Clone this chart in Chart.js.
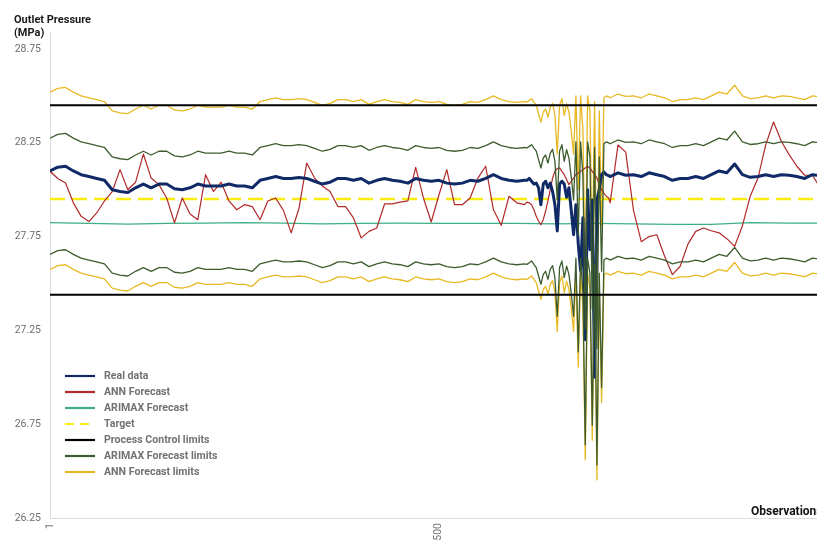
<!DOCTYPE html>
<html>
<head>
<meta charset="utf-8">
<title>Outlet Pressure</title>
<script src="https://cdn.jsdelivr.net/npm/chart.js@4.4.0/dist/chart.umd.min.js"></script>
<style>
  html, body { margin: 0; padding: 0; background: #fff; overflow: hidden; }
  #wrap { width: 850px; height: 542px; }
</style>
</head>
<body>
<div id="wrap"><canvas id="chart" width="850" height="542"></canvas></div>
<script>
// observation numbers (denser sampling around the disturbance near obs 620-720)
const obs = [
  1, 11, 21, 31, 41, 51, 61, 71, 81, 91,
  101, 111, 121, 131, 141, 151, 161, 171, 181, 191,
  201, 211, 221, 231, 241, 251, 261, 271, 281, 291,
  301, 311, 321, 331, 341, 351, 361, 371, 381, 391,
  401, 411, 421, 431, 441, 451, 461, 471, 481, 491,
  501, 511, 521, 531, 541, 551, 561, 571, 581, 591,
  601, 611,
  614, 617, 620, 623, 626, 629, 632, 635, 638, 641,
  644, 647, 650, 653, 656, 659, 662, 665, 668, 671,
  674, 677, 680, 683, 686, 689, 692, 695, 698, 701,
  704, 707, 710, 713, 716, 719,
  721, 731, 741, 751, 761, 771, 781, 791, 801, 811,
  821, 831, 841, 851, 861, 871, 881, 891, 901, 911,
  921, 931, 941, 951, 961, 971, 981, 991, 1001
]

const realData = [
  28.10, 28.12, 28.125, 28.10, 28.08, 28.07, 28.06, 28.05, 28.00, 27.99,
  27.985, 28.01, 28.03, 28.01, 28.03, 28.03, 28.005, 28.00, 28.01, 28.03,
  28.02, 28.02, 28.02, 28.03, 28.02, 28.02, 28.01, 28.05, 28.06, 28.07,
  28.06, 28.06, 28.065, 28.06, 28.045, 28.03, 28.04, 28.06, 28.06, 28.05,
  28.06, 28.035, 28.05, 28.06, 28.05, 28.045, 28.035, 28.06, 28.05, 28.045,
  28.05, 28.035, 28.03, 28.035, 28.05, 28.045, 28.06, 28.08, 28.06, 28.05,
  28.045, 28.05,
  28.05, 28.06, 28.045, 28.03, 28.035, 28.01, 27.92, 28.03, 28.045, 28.01,
  28.035, 27.99, 27.92, 27.78, 28.03, 28.045, 28.03, 27.96, 28.01, 27.89,
  27.76, 27.92, 27.71, 27.57, 27.85, 27.20, 28.00, 27.68, 27.945, 27.00,
  27.945, 28.00, 28.08, 28.095, 28.08, 28.075,
  28.07, 28.09, 28.077, 28.08, 28.07, 28.09, 28.08, 28.07, 28.05, 28.06,
  28.06, 28.07, 28.06, 28.08, 28.10, 28.09, 28.137, 28.08, 28.066, 28.07,
  28.08, 28.07, 28.08, 28.077, 28.07, 28.06, 28.08, 28.075, 28.07
]

const annForecast = [
  28.098, 28.06, 28.036, 27.93, 27.858, 27.83, 27.876, 27.94, 27.99, 28.107,
  28.00, 28.04, 28.19, 28.062, 28.027, 27.956, 27.823, 27.956, 27.87, 27.84,
  28.08, 27.99, 28.04, 27.94, 27.893, 27.92, 27.91, 27.84, 27.94, 27.956,
  27.89, 27.77, 27.90, 28.142, 28.062, 28.02, 27.99, 27.91, 27.91, 27.85,
  27.743, 27.778, 27.796, 27.924, 27.924, 27.934, 27.94, 28.119, 27.956, 27.828,
  27.973, 28.107, 27.92, 27.92, 27.956, 28.062, 28.125, 27.893, 27.81, 27.965,
  27.93, 27.92,
  27.934, 27.93, 27.92, 27.893, 27.858, 27.832, 27.813, 27.84, 27.885, 27.94,
  28.00, 28.062, 28.098, 28.112, 28.116, 28.098, 28.08, 28.053, 28.027, 28.045,
  28.062, 28.08, 28.089, 28.098, 28.107, 28.116, 28.125, 28.116, 28.098, 28.08,
  28.062, 28.027, 28.00, 27.982, 27.965, 27.956,
  27.93, 28.238, 28.20, 27.89, 27.723, 27.75, 27.76, 27.645, 27.547, 27.592,
  27.71, 27.778, 27.796, 27.781, 27.77, 27.739, 27.698, 27.808, 27.965, 28.062,
  28.24, 28.361, 28.258, 28.187, 28.125, 28.077, 28.077, 28.01, 28.00
]

const arimaxObs = [1, 51, 101, 151, 201, 251, 301, 351, 401, 451, 501, 551, 601, 651, 701, 751, 801, 851, 901, 951, 1001]
const arimaxForecast = [
  27.825, 27.82, 27.817, 27.82, 27.822, 27.825, 27.822, 27.818, 27.82, 27.822,
  27.82, 27.82, 27.82, 27.818, 27.82, 27.818, 27.815, 27.815, 27.825, 27.822, 27.822
]

const arimaxUpper = [
  28.275, 28.295, 28.30, 28.275, 28.255, 28.245, 28.235, 28.225, 28.175, 28.165,
  28.16, 28.185, 28.205, 28.185, 28.205, 28.205, 28.18, 28.175, 28.185, 28.205,
  28.195, 28.195, 28.195, 28.205, 28.195, 28.195, 28.185, 28.225, 28.235, 28.245,
  28.235, 28.235, 28.24, 28.235, 28.22, 28.205, 28.215, 28.235, 28.235, 28.225,
  28.235, 28.21, 28.225, 28.235, 28.225, 28.22, 28.21, 28.235, 28.225, 28.22,
  28.225, 28.21, 28.205, 28.21, 28.225, 28.22, 28.235, 28.255, 28.235, 28.225,
  28.22, 28.225,
  28.222, 28.231, 28.24, 28.222, 28.205, 28.16, 28.115, 28.169, 28.185, 28.142,
  28.195, 28.215, 28.151, 27.945, 28.205, 28.24, 28.151, 28.213, 28.169, 28.068,
  27.945, 28.255, 27.755, 28.255, 28.075, 27.26, 28.255, 28.175, 27.365, 28.225,
  27.153, 28.175, 27.565, 28.245, 28.255, 28.25,
  28.245, 28.265, 28.252, 28.255, 28.245, 28.265, 28.255, 28.245, 28.225, 28.235,
  28.235, 28.245, 28.235, 28.255, 28.275, 28.265, 28.312, 28.255, 28.241, 28.245,
  28.255, 28.245, 28.255, 28.252, 28.245, 28.235, 28.255, 28.25, 28.245
]

const arimaxLower = [
  27.655, 27.675, 27.68, 27.655, 27.635, 27.625, 27.615, 27.605, 27.555, 27.545,
  27.54, 27.565, 27.585, 27.565, 27.585, 27.585, 27.56, 27.555, 27.565, 27.585,
  27.575, 27.575, 27.575, 27.585, 27.575, 27.575, 27.565, 27.605, 27.615, 27.625,
  27.615, 27.615, 27.62, 27.615, 27.60, 27.585, 27.595, 27.615, 27.615, 27.605,
  27.615, 27.59, 27.605, 27.615, 27.605, 27.60, 27.59, 27.615, 27.605, 27.60,
  27.605, 27.59, 27.585, 27.59, 27.605, 27.60, 27.615, 27.635, 27.615, 27.605,
  27.60, 27.605,
  27.602, 27.611, 27.62, 27.602, 27.585, 27.54, 27.495, 27.549, 27.565, 27.522,
  27.575, 27.595, 27.531, 27.325, 27.585, 27.62, 27.531, 27.593, 27.549, 27.448,
  27.325, 27.635, 27.135, 27.635, 27.455, 26.64, 27.635, 27.555, 26.745, 27.605,
  26.533, 27.555, 26.945, 27.625, 27.635, 27.63,
  27.625, 27.645, 27.632, 27.635, 27.625, 27.645, 27.635, 27.625, 27.605, 27.615,
  27.615, 27.625, 27.615, 27.635, 27.655, 27.645, 27.692, 27.635, 27.621, 27.625,
  27.635, 27.625, 27.635, 27.632, 27.625, 27.615, 27.635, 27.63, 27.625
]

const annUpper = [
  28.52, 28.54, 28.545, 28.52, 28.50, 28.49, 28.48, 28.47, 28.42, 28.41,
  28.405, 28.43, 28.45, 28.43, 28.45, 28.45, 28.425, 28.42, 28.43, 28.45,
  28.44, 28.44, 28.44, 28.45, 28.44, 28.44, 28.43, 28.47, 28.48, 28.49,
  28.48, 28.48, 28.485, 28.48, 28.465, 28.45, 28.46, 28.48, 28.48, 28.47,
  28.48, 28.455, 28.47, 28.48, 28.47, 28.465, 28.455, 28.48, 28.47, 28.465,
  28.47, 28.455, 28.45, 28.455, 28.47, 28.465, 28.48, 28.50, 28.48, 28.47,
  28.465, 28.47,
  28.467, 28.476, 28.485, 28.467, 28.45, 28.405, 28.36, 28.414, 28.43, 28.387,
  28.44, 28.46, 28.396, 28.19, 28.45, 28.485, 28.396, 28.458, 28.414, 28.313,
  28.19, 28.50, 28.00, 28.50, 28.32, 27.505, 28.50, 28.42, 27.61, 28.47,
  27.398, 28.42, 27.81, 28.49, 28.50, 28.495,
  28.49, 28.51, 28.497, 28.50, 28.49, 28.51, 28.50, 28.49, 28.47, 28.48,
  28.48, 28.49, 28.48, 28.50, 28.52, 28.51, 28.557, 28.50, 28.486, 28.49,
  28.50, 28.49, 28.50, 28.497, 28.49, 28.48, 28.50, 28.495, 28.49
]

const annLower = [
  27.575, 27.595, 27.60, 27.575, 27.555, 27.545, 27.535, 27.525, 27.475, 27.465,
  27.46, 27.485, 27.505, 27.485, 27.505, 27.505, 27.48, 27.475, 27.485, 27.505,
  27.495, 27.495, 27.495, 27.505, 27.495, 27.495, 27.485, 27.525, 27.535, 27.545,
  27.535, 27.535, 27.54, 27.535, 27.52, 27.505, 27.515, 27.535, 27.535, 27.525,
  27.535, 27.51, 27.525, 27.535, 27.525, 27.52, 27.51, 27.535, 27.525, 27.52,
  27.525, 27.51, 27.505, 27.51, 27.525, 27.52, 27.535, 27.555, 27.535, 27.525,
  27.52, 27.525,
  27.522, 27.531, 27.54, 27.522, 27.505, 27.46, 27.415, 27.469, 27.485, 27.442,
  27.495, 27.515, 27.451, 27.245, 27.505, 27.54, 27.451, 27.513, 27.469, 27.368,
  27.245, 27.555, 27.055, 27.555, 27.375, 26.56, 27.555, 27.475, 26.665, 27.525,
  26.453, 27.475, 26.865, 27.545, 27.555, 27.55,
  27.545, 27.565, 27.552, 27.555, 27.545, 27.565, 27.555, 27.545, 27.525, 27.535,
  27.535, 27.545, 27.535, 27.555, 27.575, 27.565, 27.612, 27.555, 27.541, 27.545,
  27.555, 27.545, 27.555, 27.552, 27.545, 27.535, 27.555, 27.55, 27.545
]

const controlLimits = [28.45, 27.44]
const target = 27.95
const yTicks = [26.25, 26.75, 27.25, 27.75, 28.25, 28.75]
const xTicks = [1, 500, 1000]
const xRange = [1, 1010]

const colors = {
    real: '#0f2a66',
    ann: '#b02a2a',
    arimax: '#3caf86',
    target: '#f8ec10',
    control: '#000000',
    arimaxLim: '#3d5c2e',
    annLim: '#e8b923'
}

for (const [name, arr] of Object.entries({ realData, annForecast, arimaxUpper, arimaxLower, annUpper, annLower })) {
    if (arr.length !== obs.length) throw new Error(name + ' has ' + arr.length + ' values, expected ' + obs.length)
}

const pts = (xs, ys) => xs.map((x, i) => ({ x: x, y: ys[i] }))
const flat = v => [{ x: xRange[0], y: v }, { x: xRange[1], y: v }]

function line(label, data, color, width, extra) {
    return Object.assign({
        label: label,
        data: data,
        borderColor: color,
        backgroundColor: color,
        borderWidth: width,
        pointRadius: 0,
        tension: 0,
        fill: false,
        borderJoinStyle: 'round'
    }, extra || {})
}

// first dataset is drawn on top
const datasets = [
    line('Process Control limits', flat(controlLimits[0]), colors.control, 2),
    line('Process Control limits', flat(controlLimits[1]), colors.control, 2),
    line('ARIMAX Forecast limits', pts(obs, arimaxUpper), colors.arimaxLim, 1.3),
    line('ARIMAX Forecast limits', pts(obs, arimaxLower), colors.arimaxLim, 1.3),
    line('Real data', pts(obs, realData), colors.real, 3),
    line('ANN Forecast', pts(obs, annForecast), colors.ann, 1.2),
    line('Target', flat(target), colors.target, 2.5, { borderDash: [15, 7] }),
    line('ANN Forecast limits', pts(obs, annUpper), colors.annLim, 1.3),
    line('ANN Forecast limits', pts(obs, annLower), colors.annLim, 1.3),
    line('ARIMAX Forecast', pts(arimaxObs, arimaxForecast), colors.arimax, 1.3)
]

const legendItems = [
    { label: 'Real data', color: colors.real },
    { label: 'ANN Forecast', color: colors.ann },
    { label: 'ARIMAX Forecast', color: colors.arimax },
    { label: 'Target', color: colors.target, dash: [9, 6] },
    { label: 'Process Control limits', color: colors.control },
    { label: 'ARIMAX Forecast limits', color: colors.arimaxLim },
    { label: 'ANN Forecast limits', color: colors.annLim }
]

const textPlugin = {
    id: 'texts',
    afterDraw(chart) {
        const ctx = chart.ctx
        ctx.save()
        ctx.fillStyle = '#1a1a1a'
        ctx.textAlign = 'left'
        ctx.textBaseline = 'alphabetic'
        ctx.font = 'bold 11px Roboto'
        ctx.fillText('Outlet Pressure', 14, 22.5)
        ctx.fillText('(MPa)', 14, 35.5)
        ctx.font = 'bold 12px Roboto'
        ctx.fillStyle = '#111'
        ctx.fillText('Observations', 751, 515)

        // legend inside the plot, lower left
        ctx.font = 'bold 10.6px Roboto'
        ctx.textBaseline = 'middle'
        legendItems.forEach((item, i) => {
            const y = 376 + i * 16
            ctx.strokeStyle = item.color
            ctx.lineWidth = 2.2
            ctx.setLineDash(item.dash || [])
            ctx.beginPath()
            ctx.moveTo(65, y)
            ctx.lineTo(95, y)
            ctx.stroke()
            ctx.setLineDash([])
            ctx.fillStyle = '#727272'
            ctx.fillText(item.label, 104, y + 0.5)
        })
        ctx.restore()
    }
}

const axisFont = { family: 'Roboto', size: 10.5 }

new Chart(document.getElementById('chart'), {
    type: 'line',
    data: { datasets: datasets },
    options: {
        responsive: false,
        animation: false,
        devicePixelRatio: 1,
        parsing: false,
        normalized: true,
        layout: { padding: { top: 32, right: 15, left: 0, bottom: 0 } },
        plugins: {
            legend: { display: false },
            tooltip: { enabled: false }
        },
        scales: {
            x: {
                type: 'linear',
                min: xRange[0],
                max: xRange[1],
                afterBuildTicks: scale => { scale.ticks = xTicks.map(v => ({ value: v })) },
                afterFit: scale => { scale.height = 24 },
                grid: { display: false, drawTicks: false },
                border: { display: true, color: '#dcdcdc', width: 1 },
                ticks: {
                    autoSkip: false,
                    minRotation: 90,
                    maxRotation: 90,
                    padding: 5,
                    color: '#777',
                    font: axisFont,
                    callback: v => String(v)
                }
            },
            y: {
                type: 'linear',
                min: 26.25,
                max: 28.8406,
                afterBuildTicks: scale => { scale.ticks = yTicks.map(v => ({ value: v })) },
                afterFit: scale => { scale.width = 50 },
                grid: { display: false, drawTicks: false },
                border: { display: true, color: '#dcdcdc', width: 1 },
                ticks: {
                    padding: 9,
                    color: '#6e6e6e',
                    font: axisFont,
                    callback: v => v.toFixed(2)
                }
            }
        }
    },
    plugins: [textPlugin]
})
</script>
</body>
</html>
